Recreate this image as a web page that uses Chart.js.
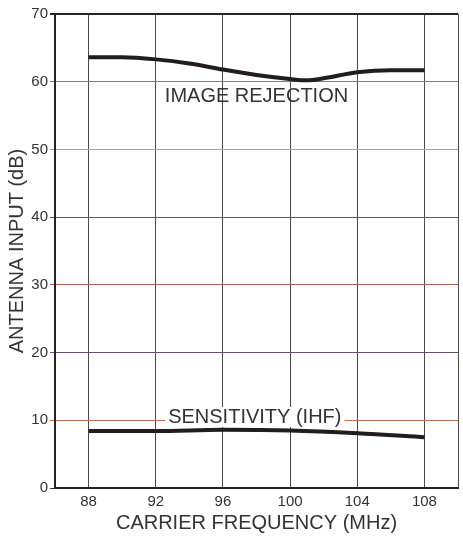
<!DOCTYPE html>
<html>
<head>
<meta charset="utf-8">
<script src="https://cdn.jsdelivr.net/npm/chart.js@4"></script>
<style>
  html, body { margin: 0; padding: 0; background: #fff; }
  #wrap { width: 463px; height: 537px; }
</style>
</head>
<body>
<div id="wrap"><canvas id="c"></canvas></div>
<script>
// values
const xTicks = [88, 92, 96, 100, 104, 108];
const imageFreq = [88, 90, 92, 94, 96, 98, 100, 101, 102, 104, 106, 108];
const imageRejection = [63.6, 63.6, 63.3, 62.7, 61.8, 61.0, 60.4, 60.2, 60.5, 61.4, 61.7, 61.7];
const sensFreq = [88, 92, 96, 100, 104, 108];
const sensitivity = [8.4, 8.4, 8.6, 8.5, 8.1, 7.5];

// hand colours of the scanned horizontal rules
const rowColors = {0: '#3a3030', 10: '#c0704a', 20: '#6a5070', 30: '#a86060', 40: '#7a4a60', 50: '#d8a040', 60: '#5a80c8', 70: '#2a2222'};

const FONT = "'Liberation Sans', Arial, sans-serif";
const INK = '#333';

// curve labels sit in data space
const notes = [
  { text: 'IMAGE REJECTION', x: 98.0, y: 57.0, knockout: false },
  { text: 'SENSITIVITY (IHF)', x: 97.9, y: 9.6, knockout: true }
];

const notePlugin = {
  id: 'notes',
  beforeDatasetsDraw(chart) {
    const ctx = chart.ctx;
    const xs = chart.scales.x, ys = chart.scales.y;
    ctx.save();
    ctx.font = '20px ' + FONT;
    ctx.textAlign = 'center';
    ctx.textBaseline = 'alphabetic';
    notes.forEach(n => {
      const px = xs.getPixelForValue(n.x);
      const py = ys.getPixelForValue(n.y);
      if (n.knockout) {
        const w = ctx.measureText(n.text).width;
        ctx.fillStyle = '#fff';
        ctx.fillRect(px - w / 2 - 3, py - 16, w + 6, 20);
      }
      ctx.fillStyle = INK;
      ctx.fillText(n.text, px, py);
    });
    ctx.restore();
  }
};

new Chart(document.getElementById('c'), {
  type: 'line',
  data: {
    datasets: [
      {
        label: 'Image rejection',
        data: imageFreq.map((f, i) => ({ x: f, y: imageRejection[i] })),
        borderColor: '#231c1c',
        borderWidth: 4,
        pointRadius: 0,
        cubicInterpolationMode: 'monotone'
      },
      {
        label: 'Sensitivity (IHF)',
        data: sensFreq.map((f, i) => ({ x: f, y: sensitivity[i] })),
        borderColor: '#231c1c',
        borderWidth: 4,
        pointRadius: 0,
        cubicInterpolationMode: 'monotone'
      }
    ]
  },
  options: {
    responsive: true,
    maintainAspectRatio: false,
    animation: false,
    layout: { padding: { top: 14, right: 0, left: 0, bottom: 0 } },
    plugins: { legend: { display: false }, tooltip: { enabled: false } },
    scales: {
      x: {
        type: 'linear',
        min: 86,
        max: 110,
        afterBuildTicks(scale) {
          scale.ticks = [86].concat(xTicks, [110]).map(v => ({ value: v }));
        },
        afterFit(scale) { scale.height = 49; },
        ticks: {
          autoSkip: false,
          maxRotation: 0,
          padding: 5,
          color: INK,
          font: { family: FONT, size: 15 },
          callback: v => xTicks.includes(v) ? String(v) : ''
        },
        grid: { color: '#4a4a4a', lineWidth: 1, drawTicks: false },
        border: { color: '#2a2222', width: 2 },
        title: {
          display: true,
          text: 'CARRIER FREQUENCY (MHz)',
          color: INK,
          font: { family: FONT, size: 20 },
          padding: { top: 0, bottom: 2 }
        }
      },
      y: {
        min: 0,
        max: 70,
        afterFit(scale) { scale.width = 55; },
        ticks: {
          stepSize: 10,
          padding: 2,
          color: INK,
          font: { family: FONT, size: 15 }
        },
        grid: {
          tickLength: 5,
          lineWidth: ctx => (ctx.tick && ctx.tick.value === 70) ? 2 : 1,
          color: ctx => rowColors[ctx.tick ? ctx.tick.value : 0] || '#666'
        },
        border: { color: '#2a2222', width: 2 },
        title: {
          display: true,
          text: 'ANTENNA INPUT (dB)',
          color: INK,
          font: { family: FONT, size: 20 },
          padding: { top: 5, bottom: 0 }
        }
      }
    }
  },
  plugins: [notePlugin]
});
</script>
</body>
</html>
